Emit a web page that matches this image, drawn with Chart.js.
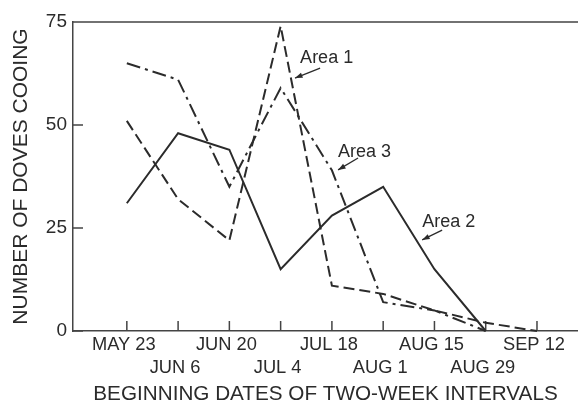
<!DOCTYPE html>
<html>
<head>
<meta charset="utf-8">
<script src="https://cdn.jsdelivr.net/npm/chart.js@4.4.0/dist/chart.umd.min.js"></script>
<style>
  html, body { margin: 0; background: #fff; }
</style>
</head>
<body>
<canvas id="doves" width="578" height="405"></canvas>
<script>
const dates = ['MAY 23', 'JUN 6', 'JUN 20', 'JUL 4', 'JUL 18', 'AUG 1', 'AUG 15', 'AUG 29', 'SEP 12'];
const area1 = [51, 32, 22, 74, 11, 9, 5, 2, 0];
const area2 = [31, 48, 44, 15, 28, 35, 15, 0, null];
const area3 = [65, 61, 35, 59, 39, 7, 5, 0, null];
const yTicks = [0, 25, 50, 75];

const ink = '#2b2b2b';
const font = 'Liberation Sans, Arial, Helvetica, sans-serif';

// labels with arrows, in data units
const notes = [
  { text: 'Area 1', x: 3.38, y: 66.3, from: [3.77, 63.8], to: [3.28, 61.4] },
  { text: 'Area 3', x: 4.12, y: 43.4, from: [4.51, 42.0], to: [4.12, 39.1] },
  { text: 'Area 2', x: 5.76, y: 26.5, from: [6.15, 24.5], to: [5.76, 22.1] }
];

const toPoints = arr => arr.map((v, i) => ({ x: i, y: v })).filter(p => p.y !== null);

// inward tick marks, top frame line and arrow labels
const frame = {
  id: 'frame',
  beforeDatasetsDraw(chart) {
    const { ctx, chartArea: a, scales: { x, y } } = chart;
    ctx.save();
    ctx.strokeStyle = '#444';
    ctx.lineWidth = 1.5;
    ctx.beginPath();
    ctx.moveTo(a.left, a.top);
    ctx.lineTo(a.right, a.top);
    dates.forEach((_, i) => {
      const px = x.getPixelForValue(i);
      ctx.moveTo(px, a.bottom);
      ctx.lineTo(px, a.bottom - 10);
    });
    yTicks.forEach(v => {
      const py = y.getPixelForValue(v);
      ctx.moveTo(a.left, py);
      ctx.lineTo(a.left + 10, py);
    });
    ctx.stroke();
    ctx.restore();
  },
  afterDatasetsDraw(chart) {
    const { ctx, scales: { x, y } } = chart;
    ctx.save();
    ctx.fillStyle = ink;
    ctx.strokeStyle = ink;
    ctx.font = '18px ' + font;
    ctx.textBaseline = 'middle';
    notes.forEach(n => {
      ctx.fillText(n.text, x.getPixelForValue(n.x), y.getPixelForValue(n.y));
      const x1 = x.getPixelForValue(n.from[0]), y1 = y.getPixelForValue(n.from[1]);
      const x2 = x.getPixelForValue(n.to[0]), y2 = y.getPixelForValue(n.to[1]);
      ctx.lineWidth = 1.3;
      ctx.beginPath();
      ctx.moveTo(x1, y1);
      ctx.lineTo(x2, y2);
      ctx.stroke();
      const ang = Math.atan2(y2 - y1, x2 - x1);
      ctx.beginPath();
      ctx.moveTo(x2, y2);
      ctx.lineTo(x2 - 8 * Math.cos(ang - 0.35), y2 - 8 * Math.sin(ang - 0.35));
      ctx.lineTo(x2 - 8 * Math.cos(ang + 0.35), y2 - 8 * Math.sin(ang + 0.35));
      ctx.closePath();
      ctx.fill();
    });
    ctx.restore();
  }
};

const line = (label, data, dash) => ({
  label,
  data: toPoints(data),
  borderColor: ink,
  borderWidth: 2,
  borderDash: dash,
  pointRadius: 0,
  tension: 0,
  fill: false,
  clip: false
});

new Chart(document.getElementById('doves'), {
  type: 'line',
  data: {
    datasets: [
      line('Area 1', area1, [11, 5]),
      line('Area 2', area2, []),
      line('Area 3', area3, [14, 5, 3, 5])
    ]
  },
  options: {
    responsive: false,
    animation: false,
    layout: { padding: { top: 22, right: 0, left: 0, bottom: 0 } },
    plugins: {
      legend: { display: false },
      tooltip: { enabled: false }
    },
    scales: {
      x: {
        type: 'linear',
        min: -1.05,
        max: 8.8,
        afterBuildTicks: s => { s.ticks = dates.map((_, i) => ({ value: i })); },
        afterFit: s => { s.height = 74; },
        grid: { display: false, drawTicks: false },
        border: { display: true, color: '#444', width: 1.5 },
        ticks: {
          autoSkip: false,
          maxRotation: 0,
          padding: 3,
          labelOffset: -3,
          color: ink,
          font: { family: font, size: 18.3, lineHeight: 1.22 },
          callback: v => (v % 2 ? ['', dates[v]] : dates[v])
        },
        title: {
          display: true,
          text: 'BEGINNING DATES OF TWO-WEEK INTERVALS',
          color: ink,
          font: { family: font, size: 20.7, lineHeight: 1 },
          padding: { top: 0, bottom: 0 }
        }
      },
      y: {
        min: 0,
        max: 75,
        afterBuildTicks: s => { s.ticks = yTicks.map(v => ({ value: v })); },
        afterFit: s => { s.width = 73; },
        grid: { display: false, drawTicks: false },
        border: { display: true, color: '#444', width: 1.5 },
        ticks: {
          padding: 6,
          color: ink,
          font: { family: font, size: 19 }
        },
        title: {
          display: true,
          text: 'NUMBER OF DOVES COOING',
          color: ink,
          font: { family: font, size: 21 },
          padding: { top: 9, bottom: 0 }
        }
      }
    }
  },
  plugins: [frame]
});
</script>
</body>
</html>
